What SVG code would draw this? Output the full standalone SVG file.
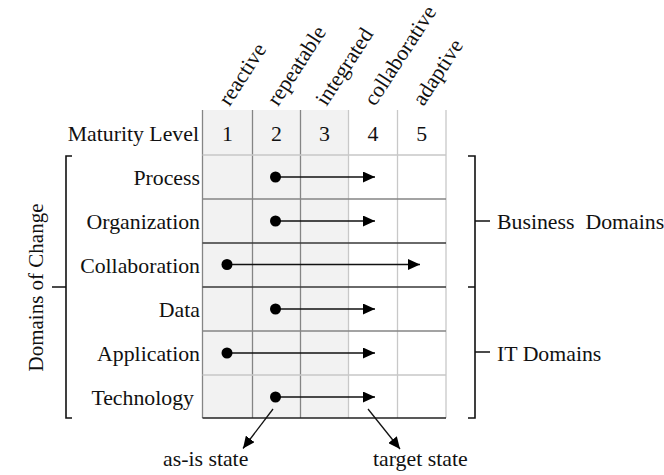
<svg xmlns="http://www.w3.org/2000/svg" width="664" height="475" viewBox="0 0 664 475">
<defs>
<style>
text{font-family:"Liberation Serif","Times New Roman",serif;font-size:21.8px;fill:#111}
.num{text-anchor:middle}
.lbl{text-anchor:end}
.rot{font-size:21.8px}
.vert{font-size:21px;text-anchor:middle}
.gl{stroke:#c8c8c8;stroke-width:1.3;fill:none}
.gm{stroke:#858585;stroke-width:1.3;fill:none}
.gd{stroke:#3a3a3a;stroke-width:1.4;fill:none}
.br{stroke:#111;stroke-width:1.6;fill:none}
.ar{stroke:#111;stroke-width:1.3;fill:none;marker-end:url(#ah)}
.dot{fill:#000}
</style>
<marker id="ah" viewBox="0 0 12 11" refX="12" refY="5.5" markerWidth="12" markerHeight="11" markerUnits="userSpaceOnUse" orient="auto">
<path d="M0,0 L12,5.5 L0,11 z" fill="#000"/>
</marker>
</defs>
<rect width="664" height="475" fill="#fff"/>

<g id="grid">
<rect x="202.5" y="110" width="146" height="308" fill="#f2f2f2"/>
<path class="gl" d="M348.5,110V418M397.5,110V418M446,110V418"/>
<path class="gm" d="M202.5,110V418M252.5,110V418M300.5,110V418"/>
<path class="gl" d="M202.5,155H446M202.5,375H446"/>
<path class="gm" d="M202.5,199H446M202.5,331H446"/>
<path class="gd" d="M202.5,243H446M202.5,287H446"/>
<path stroke="#222" stroke-width="1.5" d="M202.5,418H446"/>
</g>

<g id="header">
<text class="lbl" x="199" y="141">Maturity Level</text>
<text class="num" x="227.5" y="141">1</text>
<text class="num" x="276.5" y="141">2</text>
<text class="num" x="324.5" y="141">3</text>
<text class="num" x="373" y="141">4</text>
<text class="num" x="421.75" y="141">5</text>
<text class="rot" transform="translate(229.5,107) rotate(-57)">reactive</text>
<text class="rot" transform="translate(278,107) rotate(-57)">repeatable</text>
<text class="rot" transform="translate(326.5,107) rotate(-57)">integrated</text>
<text class="rot" transform="translate(375,107) rotate(-57)">collaborative</text>
<text class="rot" transform="translate(423.5,107) rotate(-57)">adaptive</text>
</g>

<g id="rows">
<g id="process"><text class="lbl" x="200" y="185">Process</text></g>
<g id="organization"><text class="lbl" x="200" y="229">Organization</text></g>
<g id="collaboration"><text class="lbl" x="200" y="273">Collaboration</text></g>
<g id="data"><text class="lbl" x="200" y="317">Data</text></g>
<g id="application"><text class="lbl" x="200" y="361">Application</text></g>
<g id="technology"><text class="lbl" x="194" y="405">Technology</text></g>
</g>

<g id="brackets">
<path class="br" d="M72,156H66V418H72M52,287H66"/>
<path class="br" d="M468,156H475V418H468M468,287H475M475,221H490M475,352H490"/>
<text class="vert" transform="translate(43,287.5) rotate(-90)">Domains of Change</text>
<text x="497" y="229" xml:space="preserve">Business  Domains</text>
<text x="497" y="361">IT Domains</text>
</g>

<g id="connectors">
<path class="ar" d="M275.5,177H375"/>
<path class="ar" d="M275.5,221H375"/>
<path class="ar" d="M227,264.5H420"/>
<path class="ar" d="M275.5,309H375"/>
<path class="ar" d="M227,353H375"/>
<path class="ar" d="M275.5,397H375"/>
<path class="ar" d="M273,409L243,448.5"/>
<path class="ar" d="M368,409L400,449"/>
<circle class="dot" cx="275.5" cy="177" r="5.5"/>
<circle class="dot" cx="275.5" cy="221" r="5.5"/>
<circle class="dot" cx="227" cy="264.5" r="5.5"/>
<circle class="dot" cx="275.5" cy="309" r="5.5"/>
<circle class="dot" cx="227" cy="353" r="5.5"/>
<circle class="dot" cx="275.5" cy="397" r="5.5"/>
</g>

<g id="notes">
<text x="163" y="466">as-is state</text>
<text x="373" y="466">target state</text>
</g>
</svg>
